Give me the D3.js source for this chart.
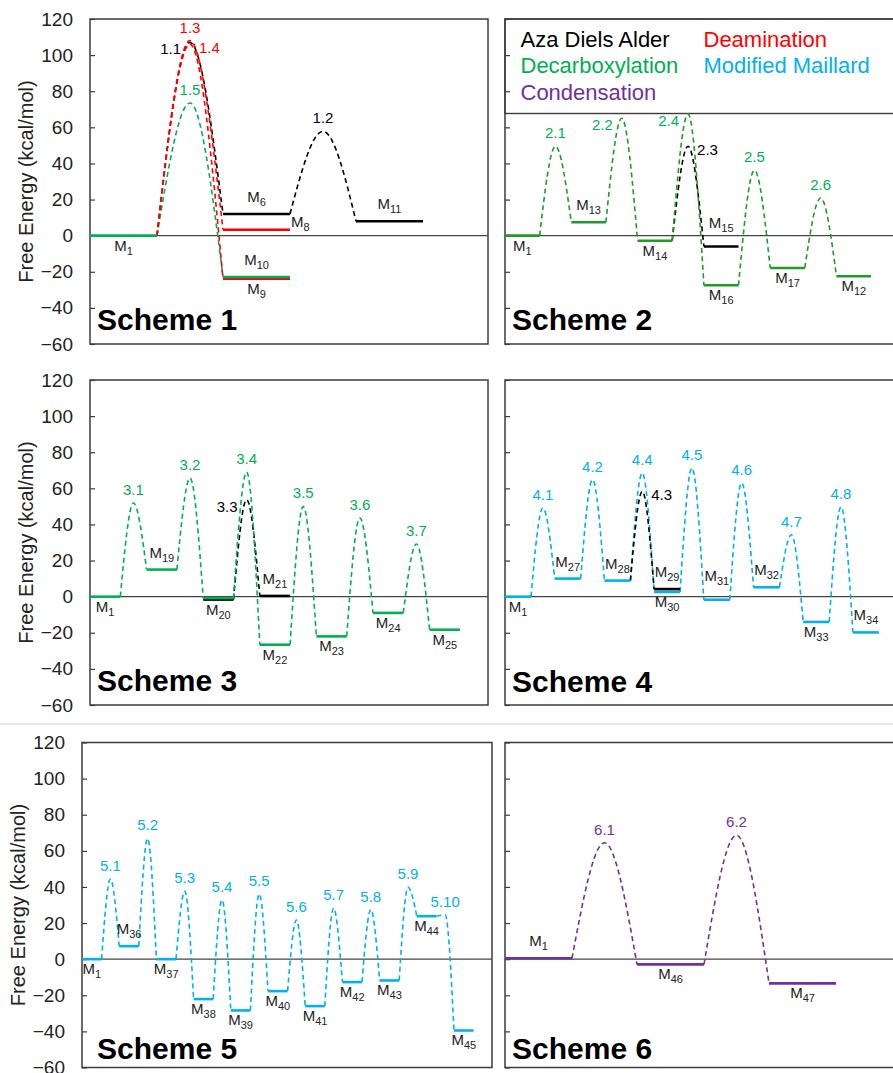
<!DOCTYPE html>
<html>
<head>
<meta charset="utf-8">
<script src="https://cdn.jsdelivr.net/npm/d3@7"></script>
<style>
  body { margin: 0; background: #fff; }
  svg { display: block; font-family: "Liberation Sans", Arial, sans-serif; }
</style>
</head>
<body>
<svg id="chart" width="893" height="1073"></svg>
<script>
// ---------------- data ----------------
const yTicks = [-60, -40, -20, 0, 20, 40, 60, 80, 100, 120];
const legendNames = ["Aza Diels Alder", "Deamination", "Decarboxylation", "Modified Maillard", "Condensation"];
const legendPaths = ["A", "R", "D", "B", "P"];
const schemeNames = ["Scheme 1", "Scheme 2", "Scheme 3", "Scheme 4", "Scheme 5", "Scheme 6"];

// levels: step = position along reaction coordinate, G = free energy (kcal/mol)
const s1Levels = [
  { name: "M1", step: 0, G: 0, path: "D" },
  { name: "M6", step: 1, G: 12, path: "A" },
  { name: "M8", step: 1, G: 3.3, path: "R" },
  { name: "M9", step: 1, G: -23.8, path: "R" },
  { name: "M10", step: 1, G: -22.9, path: "D" },
  { name: "M11", step: 2, G: 8, path: "A" }
];
const s1States = [
  { name: "1.1", from: "M1", to: "M6", G: 107, path: "A" },
  { name: "1.5", from: "M1", to: "M10", G: 73.5, path: "D" },
  { name: "1.4", from: "M1", to: "M9", G: 106, path: "R" },
  { name: "1.3", from: "M1", to: "M8", G: 108, path: "R" },
  { name: "1.2", from: "M6", to: "M11", G: 57.8, path: "A" }
];

const s2Levels = [
  { name: "M1", step: 0, G: 0, path: "D" },
  { name: "M13", step: 1, G: 7.4, path: "D" },
  { name: "M14", step: 2, G: -2.8, path: "D" },
  { name: "M15", step: 3, G: -6, path: "A" },
  { name: "M16", step: 3, G: -27.5, path: "D" },
  { name: "M17", step: 4, G: -17.9, path: "D" },
  { name: "M12", step: 5, G: -22.5, path: "D" }
];
const s2States = [
  { name: "2.1", from: "M1", to: "M13", G: 49.5, path: "D" },
  { name: "2.2", from: "M13", to: "M14", G: 65, path: "D" },
  { name: "2.3", from: "M14", to: "M15", G: 49.5, path: "A" },
  { name: "2.4", from: "M14", to: "M16", G: 67.4, path: "D" },
  { name: "2.5", from: "M16", to: "M17", G: 36.2, path: "D" },
  { name: "2.6", from: "M17", to: "M12", G: 20.9, path: "D" }
];

const s3Levels = [
  { name: "M1", step: 0, G: 0, path: "D" },
  { name: "M19", step: 1, G: 15, path: "D" },
  { name: "M20", step: 2, G: -1.6, path: "A" },
  { name: "M20", step: 2, G: -0.8, path: "D" },
  { name: "M21", step: 3, G: 0.4, path: "A" },
  { name: "M22", step: 3, G: -26.6, path: "D" },
  { name: "M23", step: 4, G: -22, path: "D" },
  { name: "M24", step: 5, G: -9, path: "D" },
  { name: "M25", step: 6, G: -18.3, path: "D" }
];
const s3States = [
  { name: "3.1", from: "M1", to: "M19", G: 51.9, path: "D" },
  { name: "3.2", from: "M19", to: "M20", G: 65.7, path: "D" },
  { name: "3.3", from: "M20", to: "M21", G: 53.7, path: "A" },
  { name: "3.4", from: "M20", to: "M22", G: 69, path: "D" },
  { name: "3.5", from: "M22", to: "M23", G: 50, path: "D" },
  { name: "3.6", from: "M23", to: "M24", G: 43.6, path: "D" },
  { name: "3.7", from: "M24", to: "M25", G: 29.2, path: "D" }
];

const s4Levels = [
  { name: "M1", step: 0, G: 0, path: "B" },
  { name: "M27", step: 1, G: 10, path: "B" },
  { name: "M28", step: 2, G: 8.9, path: "B" },
  { name: "M30", step: 3, G: 2.6, path: "B" },
  { name: "M29", step: 3, G: 4.2, path: "A" },
  { name: "M31", step: 4, G: -1.7, path: "B" },
  { name: "M32", step: 5, G: 5.2, path: "B" },
  { name: "M33", step: 6, G: -14, path: "B" },
  { name: "M34", step: 7, G: -19.8, path: "B" }
];
const s4States = [
  { name: "4.1", from: "M1", to: "M27", G: 49.1, path: "B" },
  { name: "4.2", from: "M27", to: "M28", G: 64.8, path: "B" },
  { name: "4.4", from: "M28", to: "M30", G: 68.5, path: "B" },
  { name: "4.3", from: "M28", to: "M29", G: 58.3, path: "A" },
  { name: "4.5", from: "M30", to: "M31", G: 71.3, path: "B" },
  { name: "4.6", from: "M31", to: "M32", G: 63, path: "B" },
  { name: "4.7", from: "M32", to: "M33", G: 34.3, path: "B" },
  { name: "4.8", from: "M33", to: "M34", G: 49.7, path: "B" }
];

const s5Levels = [
  { name: "M1", step: 0, G: 0, path: "B" },
  { name: "M36", step: 1, G: 7.2, path: "B" },
  { name: "M37", step: 2, G: 0, path: "B" },
  { name: "M38", step: 3, G: -22.1, path: "B" },
  { name: "M39", step: 4, G: -28.4, path: "B" },
  { name: "M40", step: 5, G: -17.7, path: "B" },
  { name: "M41", step: 6, G: -26, path: "B" },
  { name: "M42", step: 7, G: -12.7, path: "B" },
  { name: "M43", step: 8, G: -11.8, path: "B" },
  { name: "M44", step: 9, G: 23.8, path: "B" },
  { name: "M45", step: 10, G: -39.5, path: "B" }
];
const s5States = [
  { name: "5.1", from: "M1", to: "M36", G: 44.4, path: "B" },
  { name: "5.2", from: "M36", to: "M37", G: 66.9, path: "B" },
  { name: "5.3", from: "M37", to: "M38", G: 37.6, path: "B" },
  { name: "5.4", from: "M38", to: "M39", G: 32.8, path: "B" },
  { name: "5.5", from: "M39", to: "M40", G: 36.1, path: "B" },
  { name: "5.6", from: "M40", to: "M41", G: 21.7, path: "B" },
  { name: "5.7", from: "M41", to: "M42", G: 28.2, path: "B" },
  { name: "5.8", from: "M42", to: "M43", G: 27.4, path: "B" },
  { name: "5.9", from: "M43", to: "M44", G: 39.8, path: "B" },
  { name: "5.10", from: "M44", to: "M45", G: 24.5, path: "B" }
];

const s6Levels = [
  { name: "M1", step: 0, G: 0.5, path: "P" },
  { name: "M46", step: 1, G: -2.9, path: "P" },
  { name: "M47", step: 2, G: -13.4, path: "P" }
];
const s6States = [
  { name: "6.1", from: "M1", to: "M46", G: 64.5, path: "P" },
  { name: "6.2", from: "M46", to: "M47", G: 68.6, path: "P" }
];

// ---------------- layout & style ----------------
const pathColor = { A: "#000000", R: "#ff0000", D: "#00b050", B: "#00b0f0", P: "#7030a0" };

// label placement (default: states above the peak, levels below the line)
const labelSpots = {
  1: { "1.1": "left", "1.4": "right", M6: "above", M8: "right", M10: "above", M11: "above" },
  2: { "2.2": "left", "2.4": "left", "2.3": "right", M13: "above", M15: "high" },
  3: { "3.3": "left", M19: "above", M21: "above" },
  4: { "4.3": "right", M27: "above", M28: "above", M29: "above", M31: "high", M32: "above", M34: "above" },
  5: { M36: "above" },
  6: { M1: "above" }
};

const panels = [
  { x: 90, y: 19, w: 398, h: 325, levelW: 67, tsW: 66, ticks: true, titleX: 33, nameX: 97, nameY: 330 },
  { x: 505, y: 19, w: 398, h: 325, levelW: 34.6, tsW: 31.7, legend: true, darkGreen: "#1f9a2b", nameX: 512, nameY: 329.5 },
  { x: 90, y: 380, w: 398, h: 325, levelW: 30.3, tsW: 26.3, ticks: true, titleX: 33, nameX: 97, nameY: 691 },
  { x: 505, y: 380, w: 398, h: 325, levelW: 26, tsW: 23.7, nameX: 512, nameY: 691.5 },
  { x: 82, y: 742.5, w: 410, h: 325, levelW: 19.6, tsW: 17.6, ticks: true, titleX: 25, nameX: 97, nameY: 1058.5 },
  { x: 505, y: 742.5, w: 398, h: 325, levelW: 67, tsW: 65, nameX: 512, nameY: 1058.5 }
];
const schemeLevels = [s1Levels, s2Levels, s3Levels, s4Levels, s5Levels, s6Levels];
const schemeStates = [s1States, s2States, s3States, s4States, s5States, s6States];

const svg = d3.select("#chart");
const fontFamily = '"Liberation Sans", Arial, sans-serif';

// light separator between second and third row
svg.append("line")
  .attr("x1", 0).attr("x2", 893)
  .attr("y1", 724).attr("y2", 724)
  .attr("stroke", "#cfcfcf").attr("stroke-width", 1.2);

function addMLabel(sel, name) {
  // "M12" -> M with subscript 12
  sel.append("tspan").text(name.slice(0, 1));
  sel.append("tspan").attr("font-size", 11).attr("dy", 4).text(name.slice(1));
}

function drawScheme(i) {
  const p = panels[i];
  const levels = schemeLevels[i];
  const states = schemeStates[i];
  const spots = labelSpots[i + 1] || {};
  const r = p.tsW / p.levelW;
  const units = p.w / p.levelW;

  const x = d3.scaleLinear().domain([0, units]).range([p.x, p.x + p.w]);
  const y = d3.scaleLinear().domain([-60, 120]).range([p.y + p.h, p.y]);
  const lvStart = s => x(s * (1 + r));
  const lvEnd = s => x(s * (1 + r) + 1);
  const lineColor = k => (k === "D" && p.darkGreen) ? p.darkGreen : pathColor[k];

  const g = svg.append("g").attr("class", "scheme-" + (i + 1));

  // legend box (scheme 2 only)
  if (p.legend) {
    const lg = g.append("g").attr("class", "legend");
    lg.append("rect")
      .attr("x", p.x).attr("y", p.y)
      .attr("width", p.w).attr("height", 94.5)
      .attr("fill", "#fff").attr("stroke", "#3c3c3c").attr("stroke-width", 1.4);
    const cols = [p.x + 15.5, p.x + 198.5];
    const rows = [p.y + 27.5, p.y + 54, p.y + 80.5];
    legendNames.forEach((n, k) => {
      lg.append("text")
        .attr("x", cols[k % 2]).attr("y", rows[Math.floor(k / 2)])
        .attr("font-size", 22)
        .attr("fill", pathColor[legendPaths[k]])
        .text(n);
    });
  }

  // panel frame
  g.append("rect")
    .attr("x", p.x).attr("y", p.y)
    .attr("width", p.w).attr("height", p.h)
    .attr("fill", "none").attr("stroke", "#3c3c3c").attr("stroke-width", 1.5);

  // y axis, ticks pointing inward
  const axis = d3.axisLeft(y).tickValues(yTicks)
    .tickSizeInner(-5).tickSizeOuter(0).tickPadding(17);
  if (!p.ticks) axis.tickFormat("");
  const ag = g.append("g").attr("transform", `translate(${p.x},0)`).call(axis);
  ag.select(".domain").remove();
  ag.attr("font-family", fontFamily);
  ag.selectAll(".tick line").attr("stroke", "#3c3c3c").attr("stroke-width", 1.2);
  ag.selectAll(".tick text").attr("font-size", 19).attr("fill", "#222");

  if (p.ticks) {
    g.append("text")
      .attr("transform", `translate(${p.titleX},${p.y + p.h / 2}) rotate(-90)`)
      .attr("text-anchor", "middle")
      .attr("font-size", 20)
      .attr("fill", "#222")
      .text("Free Energy (kcal/mol)");
  }

  // zero line
  g.append("line")
    .attr("x1", p.x).attr("x2", p.x + p.w)
    .attr("y1", y(0)).attr("y2", y(0))
    .attr("stroke", "#444").attr("stroke-width", 1.4);

  const byName = {};
  levels.forEach(d => { if (!byName[d.name]) byName[d.name] = d; });
  const findLevel = (name, path) => levels.find(d => d.name === name && d.path === path) || byName[name];

  // transition-state arcs
  const arc = d3.line().x(d => d[0]).y(d => d[1]).curve(d3.curveMonotoneX);
  const peaks = [];
  states.forEach(s => {
    const a = findLevel(s.from, s.path);
    const b = findLevel(s.to, s.path);
    const x0 = lvEnd(a.step), x1 = lvStart(b.step);
    const xp = (x0 + x1) / 2;
    peaks.push({ s, xp, yp: y(s.G) });
    g.append("path")
      .attr("d", arc([[x0, y(a.G)], [xp, y(s.G)], [x1, y(b.G)]]))
      .attr("fill", "none")
      .attr("stroke", lineColor(s.path))
      .attr("stroke-width", 1.6)
      .attr("stroke-dasharray", "5,3.5");
  });

  // energy levels
  g.selectAll(".level")
    .data(levels)
    .join("line")
    .attr("class", "level")
    .attr("x1", d => lvStart(d.step))
    .attr("x2", d => lvEnd(d.step))
    .attr("y1", d => y(d.G))
    .attr("y2", d => y(d.G))
    .attr("stroke", d => lineColor(d.path))
    .attr("stroke-width", 2.6);

  // transition-state labels
  peaks.forEach(({ s, xp, yp }) => {
    const spot = spots[s.name] || "above";
    const t = g.append("text")
      .attr("font-size", 15)
      .attr("fill", pathColor[s.path])
      .text(s.name);
    if (spot === "left") {
      t.attr("x", xp - 9).attr("y", yp + 12).attr("text-anchor", "end");
    } else if (spot === "right") {
      t.attr("x", xp + 9).attr("y", yp + 9).attr("text-anchor", "start");
    } else {
      t.attr("x", xp).attr("y", yp - 8).attr("text-anchor", "middle");
    }
  });

  // level labels (one per name)
  Object.values(byName).forEach(d => {
    const spot = spots[d.name] || "below";
    const yl = y(d3.max(levels.filter(e => e.name === d.name), e => e.G));
    const ylow = y(d3.min(levels.filter(e => e.name === d.name), e => e.G));
    const t = g.append("text").attr("font-size", 15).attr("fill", "#222");
    const cx = (lvStart(d.step) + lvEnd(d.step)) / 2;
    if (spot === "above") {
      t.attr("x", cx).attr("y", yl - 12).attr("text-anchor", "middle");
    } else if (spot === "high") {
      t.attr("x", cx).attr("y", yl - 19).attr("text-anchor", "middle");
    } else if (spot === "right") {
      t.attr("x", lvEnd(d.step) + 1).attr("y", yl - 3).attr("text-anchor", "start");
    } else {
      t.attr("x", cx).attr("y", ylow + 15).attr("text-anchor", "middle");
    }
    addMLabel(t, d.name);
  });

  // scheme name
  g.append("text")
    .attr("x", p.nameX).attr("y", p.nameY)
    .attr("font-size", 30)
    .attr("font-weight", "bold")
    .attr("fill", "#000")
    .text(schemeNames[i]);
}

panels.forEach((p, i) => drawScheme(i));
</script>
</body>
</html>
